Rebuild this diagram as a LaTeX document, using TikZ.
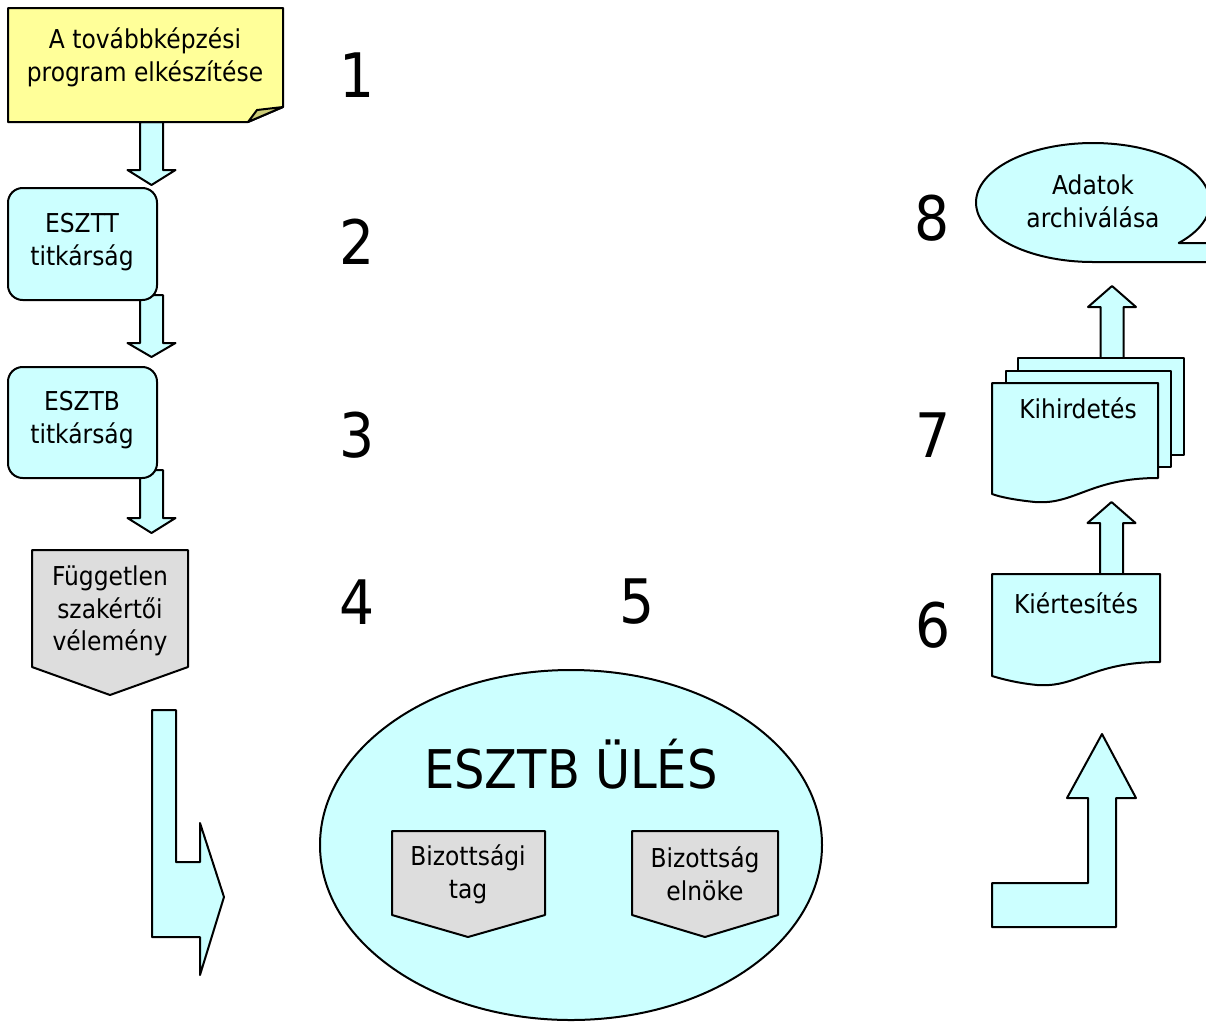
\documentclass[tikz,border=0pt]{standalone}
\usepackage{fontspec}
\setmainfont{DejaVu Sans Condensed}
\usetikzlibrary{calc}
\definecolor{skyfill}{HTML}{CCFFFF}
\definecolor{notefill}{HTML}{FFFF99}
\definecolor{foldfill}{HTML}{CCCC77}
\definecolor{greyfill}{HTML}{DDDDDD}
\tikzset{shape line/.style={draw=black,line width=1.5pt,line join=round},
  sky/.style={shape line,fill=skyfill},
  grey/.style={shape line,fill=greyfill},
  lbl/.style={align=center,inner sep=0pt,font=\fontsize{19.5}{24.5}\selectfont},
  num/.style={inner sep=0pt,font=\fontsize{46}{50}\selectfont}}
% block arrows: x, shaft end, head base, tip
\newcommand{\blockarrow}[4]{\draw[sky] (#1-11.5,#2) -- (#1+11.5,#2) -- (#1+11.5,#3) -- (#1+24,#3) -- (#1,#4) -- (#1-24,#3) -- (#1-11.5,#3) -- cycle;}

\begin{document}
\begin{tikzpicture}[x=0.75pt,y=-0.75pt]
\useasboundingbox (0,0) rectangle (1206,1021);
\clip (0,0) rectangle (1206,1021);
% draw arrows of the left column
\blockarrow{151.5}{122}{170}{185}
\blockarrow{151.5}{295}{343}{357}
\blockarrow{151.5}{470}{518}{533}
% draw arrows of the right column
\blockarrow{1111.5}{574}{523}{502}
\blockarrow{1112}{358}{307}{286}
% draw note
\draw[shape line,fill=notefill] (8,8) -- (283,8) -- (283,107) -- (248,122) -- (8,122) -- cycle;
\draw[shape line,fill=foldfill] (283,107) -- (248,122) -- (257,110) -- cycle;
\node[lbl] (program) at (145,57) {A továbbképzési\\program elkészítése};
% draw secretariats
\draw[sky,rounded corners=11pt] (8,188) rectangle (157,300);
\node[lbl] (esztt) at (82,242) {ESZTT\\titkárság};
\draw[sky,rounded corners=11pt] (8,367) rectangle (157,478);
\node[lbl] (esztb) at (82,420) {ESZTB\\titkárság};
% draw expert opinion
\draw[grey] (32,550) -- (188,550) -- (188,667) -- (110,695) -- (32,667) -- cycle;
\node[lbl] (expert) at (110,611) {Független\\szakértői\\vélemény};
% draw bent arrows
\draw[sky] (152,710) -- (176,710) -- (176,862) -- (200,862) -- (200,823) -- (224,897) -- (200,975) -- (200,937) -- (152,937) -- cycle;
\draw[sky] (992,883) -- (1088,883) -- (1088,798) -- (1067,798) -- (1102,734) -- (1136,798) -- (1116,798) -- (1116,927) -- (992,927) -- cycle;
% draw meeting
\draw[sky] (571,845) ellipse [x radius=251, y radius=175];
\node[inner sep=0pt,font=\fontsize{40}{44}\selectfont] (meeting) at (571,764) {ESZTB ÜLÉS};
\draw[grey] (392,831) -- (545,831) -- (545,915) -- (468,937) -- (392,915) -- cycle;
\node[lbl] (member) at (468,874) {Bizottsági\\tag};
\draw[grey] (632,831) -- (778,831) -- (778,915) -- (705,937) -- (632,915) -- cycle;
\node[lbl] (chair) at (705,874) {Bizottság\\elnöke};
% draw notification
\draw[sky] (992,574) -- (1160,574) -- (1160,662) .. controls (1092,662) and (1077,688) .. (1037,685) .. controls (1017,683) and (1002,679) .. (992,676) -- cycle;
\node[lbl] (notify) at (1076,603) {Kiértesítés};
% draw announcement pages
\draw[sky] (1018,358) rectangle (1184,455);
\draw[sky] (1006,371) rectangle (1171,467);
\draw[sky] (992,383) -- (1158,383) -- (1158,478) .. controls (1090,478) and (1075,505) .. (1035,502) .. controls (1015,500) and (1000,497) .. (992,494) -- cycle;
\node[lbl] (announce) at (1078,408) {Kihirdetés};
% draw archive callout
\draw[sky] (1179,243) -- (1230,243) -- (1230,262) -- (1093,262) arc[start angle=90, end angle=402.9, x radius=117, y radius=59.5] -- cycle;
\node[lbl] (archive) at (1093,201) {Adatok\\archiválása};
% draw step numbers
\node[num] (n1) at (357,75) {1};
\node[num] (n2) at (357,242) {2};
\node[num] (n3) at (357,435) {3};
\node[num] (n4) at (357,602) {4};
\node[num] (n5) at (637,602) {5};
\node[num] (n6) at (933,625) {6};
\node[num] (n7) at (933,435) {7};
\node[num] (n8) at (932,218) {8};
\end{tikzpicture}
\end{document}
